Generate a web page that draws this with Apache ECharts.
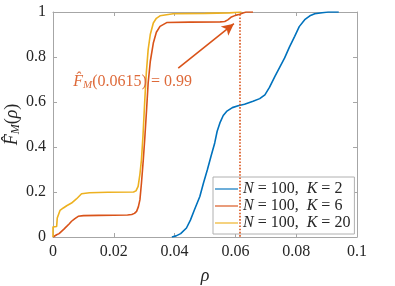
<!DOCTYPE html>
<html><head><meta charset="utf-8">
<script src="https://cdn.jsdelivr.net/npm/echarts@6/dist/echarts.min.js"></script>
<style>html,body{margin:0;padding:0;background:#fff}#c{width:395px;height:286px}</style>
</head><body><div id="c"></div>
<script>
var xTicks = [0, 0.02, 0.04, 0.06, 0.08, 0.1];
var yTicks = [0, 0.2, 0.4, 0.6, 0.8, 1];
var seriesNames = ['K2', 'K6', 'K20'];
var legendK = ['2', '6', '20'];
var dataK2 = [[0.0391,0],[0.0405,0.005],[0.0420,0.015],[0.0439,0.04],[0.0452,0.075],[0.0465,0.12],[0.0483,0.18],[0.0495,0.24],[0.0508,0.30],[0.0520,0.36],[0.0532,0.418],[0.0540,0.47],[0.0549,0.507],[0.0560,0.54],[0.0571,0.558],[0.0590,0.575],[0.0609,0.583],[0.0630,0.59],[0.0658,0.603],[0.0680,0.615],[0.0697,0.632],[0.0712,0.665],[0.0730,0.714],[0.0746,0.755],[0.0762,0.796],[0.0778,0.845],[0.0795,0.892],[0.0810,0.935],[0.0828,0.966],[0.0845,0.983],[0.0861,0.992],[0.0885,0.997],[0.0905,1.0],[0.0940,1.0]];
var dataK6 = [[0,0],[0.0006,0.005],[0.0012,0.01],[0.002,0.015],[0.0028,0.025],[0.0036,0.035],[0.0045,0.047],[0.0053,0.058],[0.0061,0.07],[0.0072,0.082],[0.0083,0.092],[0.010,0.095],[0.015,0.096],[0.020,0.097],[0.0245,0.098],[0.0259,0.1],[0.0268,0.105],[0.0275,0.114],[0.0281,0.135],[0.0286,0.166],[0.0291,0.24],[0.0297,0.343],[0.0302,0.44],[0.0308,0.57],[0.0313,0.684],[0.0320,0.78],[0.033,0.862],[0.034,0.91],[0.0352,0.936],[0.0374,0.953],[0.045,0.955],[0.055,0.956],[0.0565,0.958],[0.0575,0.965],[0.0587,0.978],[0.0600,0.985],[0.0614,0.99],[0.0625,0.996],[0.0635,1.0],[0.0658,1.0]];
var dataK20 = [[0,0],[0,0.045],[0.0012,0.047],[0.0014,0.084],[0.002,0.09],[0.0023,0.118],[0.0034,0.129],[0.0045,0.139],[0.0061,0.151],[0.0077,0.169],[0.0094,0.192],[0.012,0.197],[0.018,0.199],[0.0265,0.2],[0.0273,0.205],[0.028,0.225],[0.0286,0.28],[0.0291,0.344],[0.0296,0.45],[0.0302,0.61],[0.0307,0.73],[0.0313,0.833],[0.032,0.9],[0.033,0.951],[0.034,0.972],[0.0352,0.983],[0.0395,0.992],[0.05,0.994],[0.058,0.996],[0.062,1.0]];
var markX = 0.0615, markY = 0.99;
var arrowFrom = [0.0412, 0.751], arrowTo = [0.0595, 0.948];
var labelAt = [0.0262, 0.692];

var FONT = 'Liberation Serif';
var colors = ['#0072BD', '#D95319', '#EDB120'];
var axisCol = '#a6a6a6';
var txtCol = '#262626';
function fmt(v){ return String(+v.toFixed(2)); }

var chart = echarts.init(document.getElementById('c'), null, {renderer:'canvas'});
function baseX(pos, show){
  return {type:'value', position:pos, min:0, max:0.1, interval:0.02,
    axisLine:{show:true, onZero:false, lineStyle:{color:axisCol, width:1}},
    axisTick:{show:true, inside:true, length:4, lineStyle:{color:axisCol}},
    splitLine:{show:false},
    axisLabel:{show:show, formatter:fmt, color:txtCol, fontFamily:FONT, fontSize:16, margin:7}};
}
function baseY(pos, show){
  return {type:'value', position:pos, min:0, max:1, interval:0.2,
    axisLine:{show:true, onZero:false, lineStyle:{color:axisCol, width:1}},
    axisTick:{show:true, inside:true, length:4, lineStyle:{color:axisCol}},
    splitLine:{show:false},
    axisLabel:{show:show, formatter:fmt, color:txtCol, fontFamily:FONT, fontSize:16, margin:7}};
}
var xa0 = baseX('bottom', true);
xa0.name = 'ρ'; xa0.nameLocation = 'middle'; xa0.nameGap = 30; xa0.nameMoveOverlap = false;
xa0.nameTextStyle = {fontFamily:FONT, fontStyle:'italic', fontSize:18, color:txtCol};
var ya0 = baseY('left', true);
ya0.name = '{f|F̂}{m|M}{t|(}{r|ρ}{t|)}'; ya0.nameLocation = 'middle'; ya0.nameGap = 31; ya0.nameRotate = 90;
ya0.nameMoveOverlap = false;
ya0.nameTextStyle = {fontFamily:FONT, fontSize:18, color:txtCol, rich:{
  f:{fontFamily:FONT, fontStyle:'italic', fontSize:18, color:txtCol},
  m:{fontFamily:FONT, fontStyle:'italic', fontSize:12, color:txtCol, padding:[8,0,0,0]},
  t:{fontFamily:FONT, fontSize:18, color:txtCol},
  r:{fontFamily:FONT, fontStyle:'italic', fontSize:18, color:txtCol}}};

var series = [dataK2, dataK6, dataK20].map(function(d, i){
  return {name:seriesNames[i], type:'line', data:d, showSymbol:false, symbol:'none',
    lineStyle:{color:colors[i], width:1.6}, itemStyle:{color:colors[i]},
    animation:false, silent:true, z:2+i};
});
series[1].markLine = {silent:true, animation:false, symbol:['none','none'], label:{show:false},
  data:[
    [{coord:[markX, markY], lineStyle:{type:'dotted', width:1.6, color:'#D95319'}}, {coord:[markX, 0]}],
    [{coord:arrowFrom, symbol:'none', lineStyle:{type:'solid', width:1.6, color:'#D95319'}}, {coord:arrowTo, symbol:'arrow', symbolSize:[9,12]}]
  ]};
series[1].markPoint = {silent:true, animation:false, symbol:'circle', symbolSize:0,
  data:[{coord:labelAt, label:{show:true, position:'inside',
    formatter:'{f|F̂}{m|M}{t|(0.0615) = 0.99}',
    rich:{f:{fontFamily:FONT, fontStyle:'italic', fontSize:16, color:'#DE6A3A'},
      m:{fontFamily:FONT, fontStyle:'italic', fontSize:11, color:'#DE6A3A', padding:[7,0,0,0]},
      t:{fontFamily:FONT, fontSize:16, color:'#DE6A3A'}}}}]};

chart.setOption({
  animation:false,
  grid:{left:53, right:38, top:12, bottom:49, containLabel:false, outerBoundsMode:'none'},
  xAxis:[xa0, baseX('top', false)],
  yAxis:[ya0, baseY('right', false)],
  legend:{orient:'vertical', left:213, top:177, padding:[4,4,3,2], itemGap:1,
    itemWidth:23, itemHeight:2, icon:'path://M0 0H40V2H0Z',
    backgroundColor:'#fff', borderColor:'#b0b0b0', borderWidth:1, borderRadius:0,
    data:seriesNames,
    formatter:function(n){ var i = seriesNames.indexOf(n); return '{i|N} = 100,  {i|K} = ' + legendK[i]; },
    textStyle:{fontFamily:FONT, fontSize:16, color:txtCol, padding:[0,0,0,0], lineHeight:14.5,
      rich:{i:{fontFamily:FONT, fontStyle:'italic', fontSize:16, color:txtCol}}}},
  series:series
});
</script></body></html>
